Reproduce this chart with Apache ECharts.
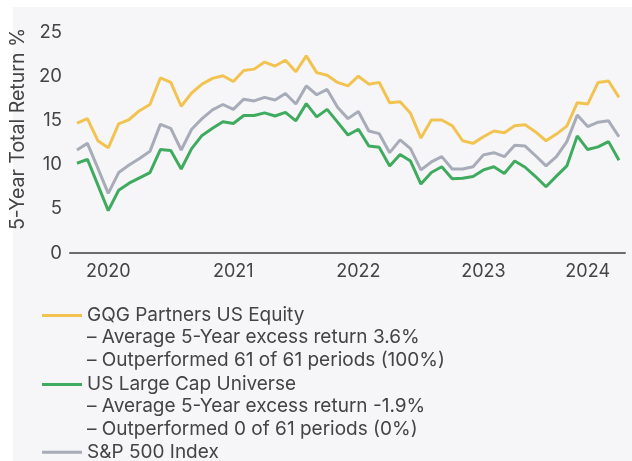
<!DOCTYPE html>
<html>
<head>
<meta charset="utf-8">
<script src="https://cdn.jsdelivr.net/npm/echarts@6/dist/echarts.min.js"></script>
<style>
  html, body { margin: 0; padding: 0; background: #ffffff; }
  #panel { position: absolute; left: 13px; top: 7px; width: 619px; height: 454px; background: #f6f6f8; }
  #chart { position: absolute; left: 0; top: 0; width: 632px; height: 461px; }
</style>
</head>
<body>
<div id="panel"></div>
<div id="chart"></div>
<script>
// monthly rolling 5-year returns, Oct 2019 - Feb 2024
const months = [
  "2019-10", "2019-11", "2019-12",
  "2020-01", "2020-02", "2020-03", "2020-04", "2020-05", "2020-06", "2020-07", "2020-08", "2020-09", "2020-10", "2020-11", "2020-12",
  "2021-01", "2021-02", "2021-03", "2021-04", "2021-05", "2021-06", "2021-07", "2021-08", "2021-09", "2021-10", "2021-11", "2021-12",
  "2022-01", "2022-02", "2022-03", "2022-04", "2022-05", "2022-06", "2022-07", "2022-08", "2022-09", "2022-10", "2022-11", "2022-12",
  "2023-01", "2023-02", "2023-03", "2023-04", "2023-05", "2023-06", "2023-07", "2023-08", "2023-09", "2023-10", "2023-11", "2023-12",
  "2024-01", "2024-02"
];

const gqg = [
  14.7, 15.2, 12.7,
  11.9, 14.6, 15.1, 16.1, 16.8, 19.8, 19.3, 16.6, 18.1, 19.1, 19.75, 20.05,
  19.4, 20.65, 20.8, 21.6, 21.15, 21.8, 20.5, 22.3, 20.4, 20.1, 19.3, 18.9,
  20.0, 19.1, 19.3, 17.0, 17.1, 15.8, 13.0, 15.05, 15.05, 14.4, 12.7, 12.4,
  13.15, 13.8, 13.6, 14.4, 14.5, 13.7, 12.7, 13.45, 14.35, 17.0, 16.85, 19.3,
  19.45, 17.6
];

const universe = [
  10.15, 10.6, 7.7,
  4.8, 7.1, 7.9, 8.5, 9.1, 11.7, 11.6, 9.5, 11.8, 13.3, 14.1, 14.85,
  14.65, 15.55, 15.55, 15.85, 15.5, 15.9, 14.95, 16.9, 15.4, 16.25, 14.8, 13.35,
  14.0, 12.1, 11.95, 9.85, 11.15, 10.4, 7.8, 9.1, 9.75, 8.4, 8.45, 8.65,
  9.4, 9.75, 9.0, 10.4, 9.7, 8.65, 7.5, 8.7, 9.85, 13.25, 11.7, 12.0,
  12.6, 10.5
];

const sp500 = [
  11.65, 12.4, 9.6,
  6.75, 9.1, 9.95, 10.7, 11.5, 14.55, 14.1, 11.65, 14.0, 15.2, 16.2, 16.8,
  16.25, 17.4, 17.2, 17.6, 17.3, 18.05, 16.85, 18.9, 17.9, 18.5, 16.5, 15.2,
  16.0, 13.8, 13.5, 11.35, 12.8, 11.8, 9.4, 10.3, 10.9, 9.5, 9.5, 9.75,
  11.1, 11.35, 10.9, 12.2, 12.1, 11.0, 9.85, 10.9, 12.6, 15.6, 14.3, 14.8,
  14.95, 13.15
];

// x tick positions (month index) and their labels
const yearTicks = [3, 15, 27, 39, 49];
const yearLabels = ["2020", "2021", "2022", "2023", "2024"];

const yTicks = [0, 5, 10, 15, 20, 25];

const gqgName = "GQG Partners US Equity\n– Average 5-Year excess return 3.6%\n– Outperformed 61 of 61 periods (100%)";
const universeName = "US Large Cap Universe\n– Average 5-Year excess return -1.9%\n– Outperformed 0 of 61 periods (0%)";
const spName = "S&P 500 Index";

const font = "Inter";
const textColor = "#444444";

function toPoints(values) {
  return values.map(function (v, i) {
    return [i, v];
  });
}

// icon bar at top of a tall box, so it lines up with the first text line
const tallIcon = "path://M0,0 M0,67.5 M0,10 H40 V13 H0 Z";

const chart = echarts.init(document.getElementById("chart"), null, { renderer: "canvas" });

const options = {
  backgroundColor: "transparent",
  animation: false,
  textStyle: { fontFamily: font },
  grid: {
    left: 70,
    right: 7,
    top: 32,
    bottom: 208,
  },
  xAxis: {
    type: "value",
    min: -0.67,
    max: 52.58,
    axisLine: { show: true, onZero: false, lineStyle: { color: "#6b6b6b", width: 2 } },
    axisTick: { show: false },
    splitLine: { show: false },
    axisLabel: {
      customValues: yearTicks,
      formatter: function (value) {
        return yearLabels[yearTicks.indexOf(value)];
      },
      color: textColor,
      fontSize: 18,
      fontFamily: font,
      margin: 10,
    },
  },
  yAxis: {
    type: "value",
    min: yTicks[0],
    max: yTicks[yTicks.length - 1],
    interval: 5,
    name: "5-Year Total Return %",
    nameLocation: "middle",
    nameGap: 34,
    nameTextStyle: {
      color: textColor,
      fontSize: 19.5,
      fontFamily: font,
      padding: [0, 0, 0, 27],
    },
    axisLine: { show: false },
    axisTick: { show: false },
    splitLine: { show: false },
    axisLabel: {
      color: textColor,
      fontSize: 18.5,
      fontFamily: font,
      margin: 8,
    },
  },
  legend: [
    {
      orient: "vertical",
      left: 37,
      top: 299,
      itemWidth: 40,
      itemHeight: 67.5,
      itemGap: 1.5,
      icon: tallIcon,
      itemStyle: { borderWidth: 0 },
      textStyle: { color: textColor, fontSize: 19, fontFamily: font, lineHeight: 22.5 },
      data: [gqgName, universeName],
    },
    {
      orient: "vertical",
      left: 37,
      top: 436,
      itemWidth: 40,
      itemHeight: 3,
      icon: "rect",
      itemStyle: { borderWidth: 0 },
      textStyle: { color: textColor, fontSize: 19, fontFamily: font, lineHeight: 22.5 },
      data: [spName],
    },
  ],
  series: [
    {
      name: spName,
      type: "line",
      data: toPoints(sp500),
      color: "#a7acb8",
      lineStyle: { width: 3 },
      showSymbol: false,
    },
    {
      name: universeName,
      type: "line",
      data: toPoints(universe),
      color: "#3fab5e",
      lineStyle: { width: 3 },
      showSymbol: false,
    },
    {
      name: gqgName,
      type: "line",
      data: toPoints(gqg),
      color: "#f2c350",
      lineStyle: { width: 3 },
      showSymbol: false,
    },
  ],
};

chart.setOption(options);
</script>
</body>
</html>
